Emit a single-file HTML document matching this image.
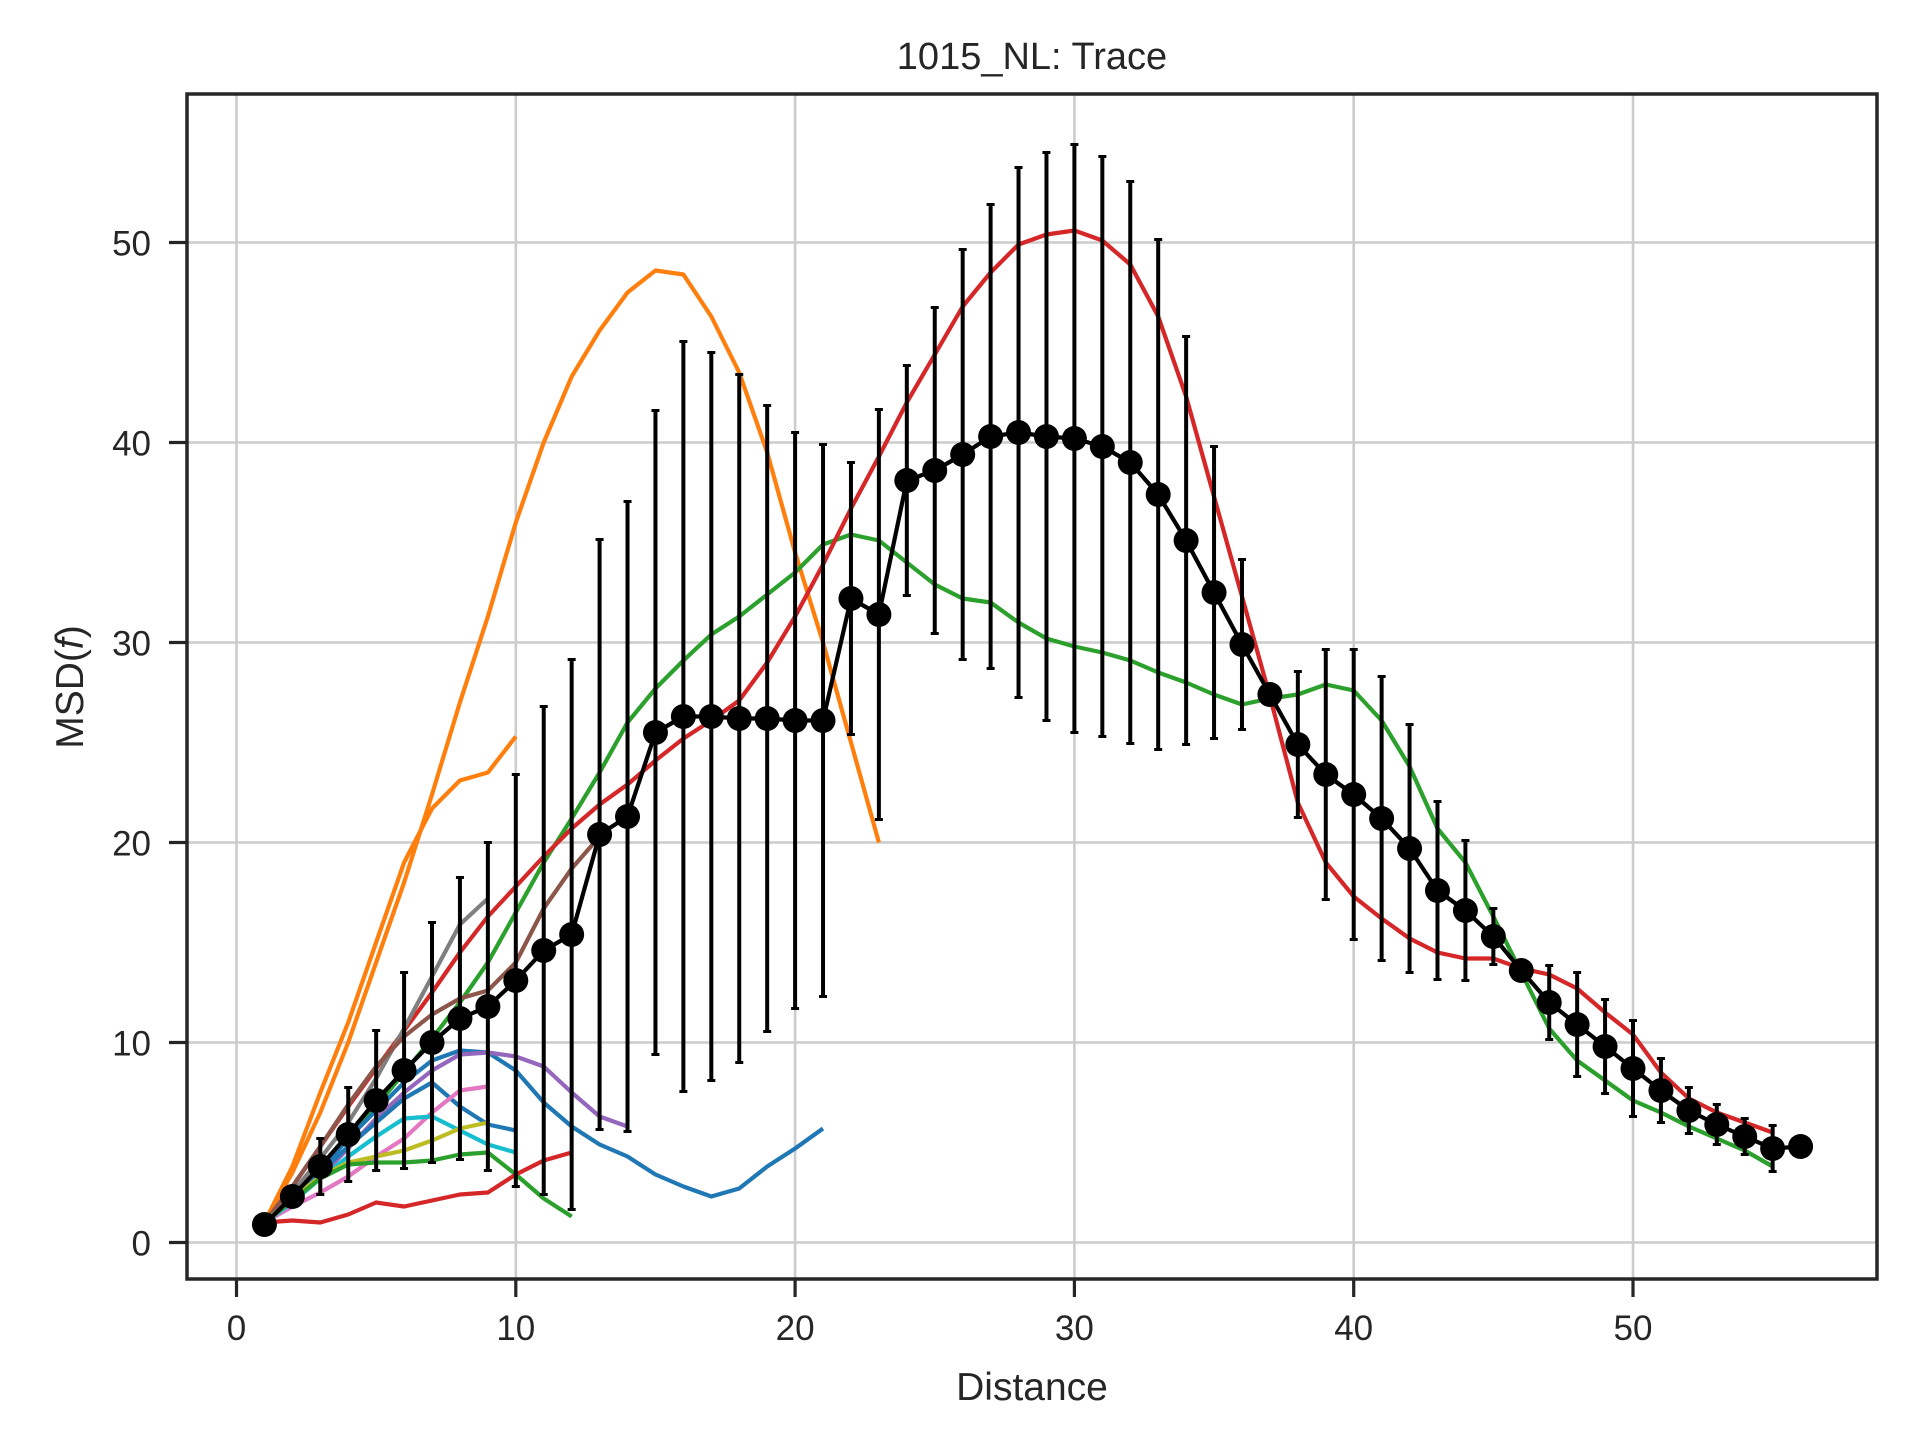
<!DOCTYPE html>
<html><head><meta charset="utf-8"><style>
html,body{margin:0;padding:0;background:#fff;}
svg{display:block;font-family:"Liberation Sans",Arial,sans-serif;}
</style></head><body>
<svg id="chart" width="1920" height="1440" viewBox="0 0 1920 1440" xmlns="http://www.w3.org/2000/svg">
<rect width="1920" height="1440" fill="#fff"/>
<g id="grid"></g>
<g id="series"></g>
<g id="mean"></g>
<g id="axes"></g>
<text x="1032" y="69" text-anchor="middle" font-size="38" fill="#262626">1015_NL: Trace</text>
<text x="1032" y="1400" text-anchor="middle" font-size="39" fill="#262626">Distance</text>
<text transform="translate(83,687) rotate(-90)" text-anchor="middle" font-size="39" fill="#262626">MSD(<tspan font-style="italic">f</tspan>)</text>
</svg>
<script>
const xTicks = [0,10,20,30,40,50];
const yTicks = [0,10,20,30,40,50];
const meanX = [1,2,3,4,5,6,7,8,9,10,11,12,13,14,15,16,17,18,19,20,21,22,23,24,25,26,27,28,29,30,31,32,33,34,35,36,37,38,39,40,41,42,43,44,45,46,47,48,49,50,51,52,53,54,55,56];
const meanY = [0.9,2.3,3.8,5.4,7.1,8.6,10.0,11.2,11.8,13.1,14.6,15.4,20.4,21.3,25.5,26.3,26.3,26.2,26.2,26.1,26.1,32.2,31.4,38.1,38.6,39.4,40.3,40.5,40.3,40.2,39.8,39.0,37.4,35.1,32.5,29.9,27.4,24.9,23.4,22.4,21.2,19.7,17.6,16.6,15.3,13.6,12.0,10.9,9.8,8.7,7.6,6.6,5.9,5.3,4.7,4.8];
const meanSd = [0,0.3,1.4,2.35,3.5,4.9,6.0,7.05,8.2,10.3,12.2,13.75,14.75,15.75,16.1,18.75,18.2,17.2,15.65,14.4,13.8,6.8,10.25,5.75,8.15,10.25,11.6,13.25,14.2,14.7,14.5,14.05,12.75,10.2,7.3,4.25,0,3.65,6.25,7.25,7.1,6.2,4.45,3.5,1.4,0,1.85,2.6,2.35,2.4,1.6,1.15,1.0,0.9,1.15,0];

const orangeLong = [1,3.5,6.5,10,14,18,22.4,27,31.3,36,40,43.3,45.6,47.5,48.6,48.4,46.3,43.5,39.5,34.5,30,25,20];
const orangeShort = [1,3.8,7.5,11,15,19,21.7,23.1,23.5,25.3];
const redLong = [1,2.8,4.8,6.8,8.7,10.6,12.5,14.5,16.3,17.8,19.3,20.7,21.9,22.9,24.1,25.2,26.1,27.1,29.0,31.3,33.9,36.7,39.3,42.0,44.4,46.8,48.5,49.9,50.4,50.6,50.1,48.9,46.3,42.3,37.3,32.3,27.3,22.0,19.0,17.3,16.2,15.2,14.5,14.2,14.2,13.7,13.4,12.7,11.5,10.4,8.5,7.2,6.5,6.0,5.5];
const greenLong = [1,2.3,3.6,5.2,6.8,8.5,10.2,12,14,16.5,19,21.2,23.5,26,27.7,29.1,30.4,31.3,32.4,33.5,34.9,35.4,35.1,34.0,32.9,32.2,32.0,31.0,30.2,29.8,29.5,29.1,28.5,28.0,27.4,26.9,27.2,27.4,27.9,27.6,26.1,23.8,20.7,19.0,16.3,13.5,10.7,9.1,8.1,7.1,6.5,5.8,5.2,4.6,3.8];
const gray = [1,2.5,4.2,6,8.2,10.7,13.3,15.9,17.2];
const brown = [1,2.8,4.8,6.9,8.8,10.3,11.4,12.2,12.6,14.0,16.7,18.7,20.3];
const blueLong = [1,2.2,3.6,5.2,6.6,8,9.1,9.6,9.5,8.6,7.0,5.8,4.9,4.3,3.4,2.8,2.3,2.7,3.8,4.7,5.7];
const purple = [1,2,3.3,4.7,6.2,7.5,8.6,9.4,9.5,9.3,8.8,7.5,6.3,5.8];
const blueShort = [1,2.2,3.5,4.8,6.0,7.2,8.0,6.8,5.9,5.6];
const pink = [1,1.8,2.5,3.3,4.3,5.2,6.5,7.6,7.8];
const cyan = [1,2,3.2,4.3,5.3,6.2,6.3,5.6,4.9,4.5];
const olive = [1,2.2,3.3,4.0,4.3,4.6,5.1,5.7,6.0];
const greenShort = [1,2.1,3.2,3.9,4.0,4.0,4.1,4.4,4.5,3.4,2.2,1.3];
const redShort = [1,1.1,1.0,1.4,2.0,1.8,2.1,2.4,2.5,3.4,4.1,4.5];

const NS = "http://www.w3.org/2000/svg";
const L = 187, R = 1877, T = 94, B = 1279;
function sx(v){ return 236.5 + v * 27.93; }
function sy(v){ return 1242.5 - v * 20.0; }
function mk(tag, attrs, parent){
  const e = document.createElementNS(NS, tag);
  for (const k in attrs) e.setAttribute(k, attrs[k]);
  parent.appendChild(e);
  return e;
}
const grid = document.getElementById('grid');
const axes = document.getElementById('axes');
const ser = document.getElementById('series');
const meanG = document.getElementById('mean');

xTicks.forEach(t => {
  const g = mk('line', {x1:sx(t), x2:sx(t), y1:T, y2:B, stroke:'#cccccc', 'stroke-width':2.6}, grid);
  
  
  const tk = mk('line', {x1:sx(t), x2:sx(t), y1:B, y2:B+18, stroke:'#262626', 'stroke-width':3.2}, axes);
  
  
  const lb = mk('text', {x:sx(t), y:1340, 'text-anchor':'middle', 'font-size':35, fill:'#262626'}, axes);
  lb.textContent = t;
  
  
});
yTicks.forEach(t => {
  const g = mk('line', {x1:L, x2:R, y1:sy(t), y2:sy(t), stroke:'#cccccc', 'stroke-width':2.6}, grid);
  
  
  const tk = mk('line', {x1:L-18, x2:L, y1:sy(t), y2:sy(t), stroke:'#262626', 'stroke-width':3.2}, axes);
  
  
  const lb = mk('text', {x:151, y:sy(t)+13, 'text-anchor':'end', 'font-size':35, fill:'#262626'}, axes);
  lb.textContent = t;
  
  
});
const frame = mk('rect', {x:L, y:T, width:R-L, height:B-T, fill:'none', stroke:'#262626', 'stroke-width':3.5}, axes);



const traces = [
  [orangeLong,'#ff7f0e','trace-orange-long'],
  [orangeShort,'#ff7f0e','trace-orange-short'],
  [greenLong,'#2ca02c','trace-green-long'],
  [redLong,'#d62728','trace-red-long'],
  [gray,'#7f7f7f','trace-gray'],
  [brown,'#8c564b','trace-brown'],
  [blueLong,'#1f77b4','trace-blue-long'],
  [purple,'#9467bd','trace-purple'],
  [blueShort,'#1f77b4','trace-blue-short'],
  [pink,'#e377c2','trace-pink'],
  [cyan,'#17becf','trace-cyan'],
  [olive,'#bcbd22','trace-olive'],
  [greenShort,'#2ca02c','trace-green-short'],
  [redShort,'#d62728','trace-red-short']
];
traces.forEach(([vals,color,name]) => {
  const pts = vals.map((v,i) => sx(i+1).toFixed(1)+','+sy(v).toFixed(1)).join(' ');
  const p = mk('polyline', {points:pts, fill:'none', stroke:color, 'stroke-width':4.2, 'stroke-linejoin':'round'}, ser);
  
  
});

meanX.forEach((x,i) => {
  const sd = meanSd[i];
  if (sd > 0) {
    const e = mk('line', {x1:sx(x), x2:sx(x), y1:sy(meanY[i]+sd), y2:sy(meanY[i]-sd), stroke:'#000', 'stroke-width':4}, meanG);
    
    
    [meanY[i]+sd, meanY[i]-sd].forEach(v => {
      const c = mk('line', {x1:sx(x)-4, x2:sx(x)+4, y1:sy(v), y2:sy(v), stroke:'#000', 'stroke-width':3}, meanG);
      
      
    });
  }
});
const mpts = meanX.map((x,i) => sx(x).toFixed(1)+','+sy(meanY[i]).toFixed(1)).join(' ');
const ml = mk('polyline', {points:mpts, fill:'none', stroke:'#000', 'stroke-width':4.2, 'stroke-linejoin':'round'}, meanG);


meanX.forEach((x,i) => {
  const c = mk('circle', {cx:sx(x), cy:sy(meanY[i]), r:12.5, fill:'#000'}, meanG);
  
  
});
</script>
</body></html>
